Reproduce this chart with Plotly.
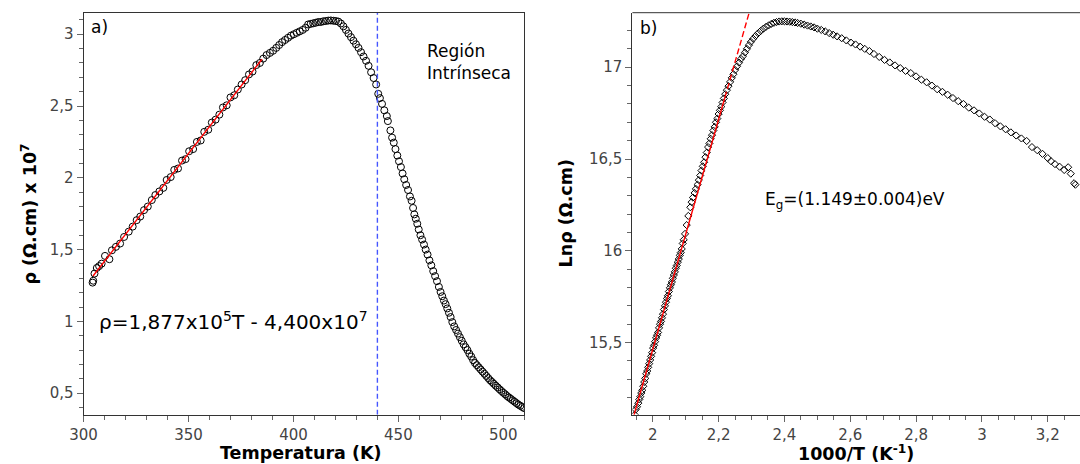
import plotly.graph_objects as go

# ---------------- Panel a) : resistivity vs temperature ----------------
T_a = [304.3, 304.6, 305.2, 306.3, 307.4, 308.6, 310.2, 312.3, 313.5, 315.4, 317.4, 319.3,
       321.5, 323.4, 325.3, 327.0, 328.8, 330.6, 332.5, 334.2, 336.1, 338.0, 339.6, 341.5,
       343.2, 345.0, 346.9, 348.6, 350.3, 352.2, 354.0, 355.8, 357.5, 359.4, 361.1, 362.9,
       364.7, 366.4, 368.2, 370.0, 371.8, 373.5, 375.3, 377.0, 378.8, 380.5, 382.3, 384.0,
       385.6, 387.2, 388.8, 390.3, 391.8, 393.2, 394.6, 396.0, 397.4, 398.8, 400.2, 401.6,
       403.0, 404.4, 405.8, 407.0, 408.2, 409.4, 410.6, 411.8, 413.0, 414.2, 415.4, 416.6,
       417.8, 419.0, 420.2, 421.4, 422.6, 423.8, 425.0, 426.2, 427.4, 428.6, 429.8, 431.0,
       432.2, 433.4, 434.6, 435.8, 437.0, 438.2, 439.4, 440.4, 441.2, 442.2, 443.3, 444.5,
       445.0, 446.2, 447.0, 447.8, 448.6, 449.5, 450.3, 451.2, 452.0, 452.8, 453.7, 454.6,
       455.5, 456.3, 457.0, 457.6, 458.3, 459.0, 459.7, 460.5, 461.3, 462.2, 463.0, 463.9,
       464.8, 465.7, 466.6, 467.5, 468.4, 469.3, 470.1, 470.9, 471.7, 472.5, 473.3, 474.1,
       474.9, 475.7, 476.6, 477.5, 478.4, 479.3, 480.2, 481.1, 482.0, 482.9, 483.8, 484.7,
       485.6, 486.5, 487.4, 488.3, 489.2, 490.1, 491.0, 491.9, 492.8, 493.7, 494.6, 495.5,
       496.4, 497.3, 498.2, 499.1, 500.0, 500.9, 501.8, 502.7, 503.6, 504.5, 505.4, 506.3,
       507.2, 508.1, 509.0, 509.9]
rho_a = [1.270, 1.283, 1.333, 1.372, 1.385, 1.402, 1.456, 1.433, 1.495, 1.519, 1.542, 1.588,
         1.625, 1.660, 1.705, 1.730, 1.775, 1.800, 1.845, 1.880, 1.905, 1.930, 1.985, 2.005,
         2.055, 2.065, 2.120, 2.130, 2.185, 2.200, 2.250, 2.260, 2.320, 2.335, 2.385, 2.405,
         2.440, 2.490, 2.505, 2.560, 2.575, 2.615, 2.650, 2.680, 2.720, 2.740, 2.785, 2.800,
         2.830, 2.855, 2.870, 2.885, 2.905, 2.925, 2.945, 2.960, 2.975, 2.990, 3.000, 3.010,
         3.020, 3.030, 3.045, 3.068, 3.072, 3.076, 3.080, 3.085, 3.085, 3.090, 3.092, 3.095,
         3.096, 3.094, 3.092, 3.088, 3.075, 3.055, 3.030, 3.005, 2.980, 2.955, 2.930, 2.905,
         2.875, 2.845, 2.815, 2.780, 2.735, 2.695, 2.650, 2.585, 2.555, 2.515, 2.470, 2.430,
         2.395, 2.330, 2.280, 2.245, 2.200, 2.155, 2.115, 2.075, 2.030, 1.990, 1.950, 1.915,
         1.870, 1.840, 1.790, 1.745, 1.715, 1.680, 1.640, 1.600, 1.570, 1.535, 1.500, 1.465,
         1.425, 1.390, 1.350, 1.315, 1.280, 1.240, 1.205, 1.175, 1.145, 1.120, 1.090, 1.060,
         1.030, 0.995, 0.965, 0.940, 0.915, 0.890, 0.865, 0.840, 0.820, 0.800, 0.775, 0.755,
         0.730, 0.710, 0.695, 0.680, 0.665, 0.650, 0.635, 0.620, 0.605, 0.590, 0.578, 0.565,
         0.552, 0.540, 0.527, 0.515, 0.503, 0.492, 0.480, 0.470, 0.460, 0.450, 0.440, 0.430,
         0.420, 0.412, 0.404, 0.396]

fit_T = [304.5, 385.0]
fit_rho = [1.316, 2.826]
intrinsic_T = 440

# ---------------- Panel b) : Ln(rho) vs 1000/T ----------------
x_b = [1.945, 1.948, 1.952, 1.956, 1.959, 1.962, 1.965, 1.968, 1.971, 1.974, 1.977, 1.980,
       1.983, 1.986, 1.989, 1.992, 1.995, 1.998, 2.001, 2.004, 2.007, 2.010, 2.013, 2.016,
       2.019, 2.022, 2.025, 2.028, 2.031, 2.034, 2.037, 2.040, 2.043, 2.046, 2.049, 2.052,
       2.055, 2.058, 2.061, 2.064, 2.067, 2.070, 2.073, 2.076, 2.079, 2.082, 2.085, 2.088,
       2.091, 2.094, 2.098, 2.103, 2.108, 2.114, 2.118, 2.122, 2.127, 2.131, 2.136, 2.140,
       2.144, 2.148, 2.152, 2.156, 2.160, 2.164, 2.168, 2.172, 2.176, 2.180, 2.184, 2.188,
       2.192, 2.196, 2.200, 2.204, 2.208, 2.212, 2.216, 2.220, 2.225, 2.230, 2.235, 2.240,
       2.245, 2.250, 2.256, 2.262, 2.268, 2.274, 2.280, 2.286, 2.292, 2.298, 2.305, 2.312,
       2.320, 2.328, 2.336, 2.344, 2.352, 2.360, 2.368, 2.376, 2.384, 2.392, 2.400, 2.408,
       2.416, 2.424, 2.432, 2.440, 2.450, 2.460, 2.470, 2.480, 2.490, 2.500, 2.512, 2.524,
       2.536, 2.548, 2.560, 2.574, 2.588, 2.602, 2.616, 2.630, 2.644, 2.658, 2.672, 2.688,
       2.704, 2.720, 2.736, 2.752, 2.768, 2.784, 2.800, 2.816, 2.832, 2.848, 2.864, 2.880,
       2.896, 2.912, 2.928, 2.944, 2.960, 2.976, 2.992, 3.008, 3.024, 3.040, 3.056, 3.072,
       3.088, 3.104, 3.120, 3.136, 3.152, 3.168, 3.184, 3.200, 3.210, 3.222, 3.236, 3.250,
       3.262, 3.270, 3.280, 3.284]
lnrho_b = [15.107, 15.135, 15.150, 15.170, 15.190, 15.205, 15.225, 15.240, 15.262, 15.285, 15.305, 15.330,
           15.345, 15.365, 15.385, 15.405, 15.425, 15.445, 15.470, 15.485, 15.505, 15.525, 15.540, 15.555,
           15.580, 15.600, 15.615, 15.635, 15.655, 15.680, 15.700, 15.720, 15.740, 15.755, 15.778, 15.798,
           15.815, 15.830, 15.850, 15.868, 15.885, 15.905, 15.920, 15.938, 15.955, 15.975, 15.990, 16.010,
           16.040, 16.060, 16.092, 16.140, 16.190, 16.237, 16.265, 16.290, 16.315, 16.337, 16.360, 16.385,
           16.410, 16.437, 16.460, 16.482, 16.510, 16.535, 16.565, 16.585, 16.610, 16.630, 16.655, 16.675,
           16.700, 16.720, 16.745, 16.765, 16.785, 16.808, 16.830, 16.853, 16.875, 16.897, 16.920, 16.942,
           16.962, 16.985, 17.005, 17.025, 17.045, 17.060, 17.080, 17.100, 17.120, 17.138, 17.155, 17.170,
           17.185, 17.198, 17.210, 17.220, 17.228, 17.236, 17.242, 17.246, 17.249, 17.250, 17.250, 17.249,
           17.248, 17.246, 17.244, 17.241, 17.237, 17.232, 17.227, 17.222, 17.217, 17.210, 17.203, 17.195,
           17.186, 17.177, 17.168, 17.158, 17.146, 17.134, 17.124, 17.112, 17.100, 17.088, 17.072, 17.056,
           17.040, 17.026, 17.010, 16.995, 16.980, 16.968, 16.950, 16.932, 16.918, 16.900, 16.880, 16.866,
           16.850, 16.832, 16.815, 16.800, 16.780, 16.765, 16.748, 16.730, 16.715, 16.695, 16.678, 16.662,
           16.645, 16.628, 16.612, 16.598, 16.565, 16.548, 16.528, 16.505, 16.488, 16.472, 16.458, 16.440,
           16.455, 16.420, 16.368, 16.360]

fit_x_solid = [1.943, 2.219]
fit_y_solid = [15.107, 16.835]
fit_x_dash = [2.219, 2.300]
fit_y_dash = [16.835, 17.342]

FONT = "DejaVu Sans"
TICKC = "#444444"

XA_DOM = [70.5 / 1080, 517 / 1080]
XB_DOM = [626.5 / 1080, 1.0]
Y_DOM = [(464 - 414.7) / 464, (464 - 12.7) / 464]

fig = go.Figure()
fig.add_trace(go.Scatter(x=T_a, y=rho_a, mode="markers", xaxis="x", yaxis="y",
                         marker=dict(symbol="circle-open", size=7, color="black",
                                     line=dict(width=1, color="black")),
                         showlegend=False, hoverinfo="skip"))
fig.add_trace(go.Scatter(x=fit_T, y=fit_rho, mode="lines", xaxis="x", yaxis="y",
                         line=dict(color="#ff0000", width=1.4), showlegend=False))
fig.add_trace(go.Scatter(x=[intrinsic_T, intrinsic_T], y=[0.35, 3.15], mode="lines",
                         xaxis="x", yaxis="y",
                         line=dict(color="#4656ff", width=1.4, dash="5px,3px"), showlegend=False))

fig.add_trace(go.Scatter(x=x_b, y=lnrho_b, mode="markers", xaxis="x2", yaxis="y2",
                         marker=dict(symbol="diamond-open", size=5.5, color="black",
                                     line=dict(width=1, color="black")),
                         showlegend=False, hoverinfo="skip"))
fig.add_trace(go.Scatter(x=fit_x_solid, y=fit_y_solid, mode="lines", xaxis="x2", yaxis="y2",
                         line=dict(color="#ff0000", width=1.4), showlegend=False))
fig.add_trace(go.Scatter(x=fit_x_dash, y=fit_y_dash, mode="lines", xaxis="x2", yaxis="y2",
                         line=dict(color="#ff0000", width=1.4, dash="6px,3px"), showlegend=False))

ax_common = dict(showgrid=False, zeroline=False, showline=True, linecolor="#333333",
                 linewidth=1, ticks="outside", ticklen=6, tickcolor="#666666",
                 tickfont=dict(family=FONT, size=15, color=TICKC))

fig.update_layout(
    width=1080, height=464,
    margin=dict(l=0, r=0, t=0, b=0),
    paper_bgcolor="white", plot_bgcolor="white",
    separators=",.",
    font=dict(family=FONT, color="black"),
    xaxis=dict(domain=XA_DOM, range=[300, 510], dtick=50, tick0=300,
               mirror=True, minor=dict(ticks="outside", dtick=10, ticklen=4, tickcolor="#666666"),
               anchor="y", **ax_common),
    yaxis=dict(domain=Y_DOM, range=[0.35, 3.15], dtick=0.5, tick0=0,
               mirror=True, minor=dict(ticks="outside", dtick=0.1, ticklen=4, tickcolor="#666666"),
               anchor="x", **ax_common),
    xaxis2=dict(domain=XB_DOM, range=[1.938, 3.298], dtick=0.2, tick0=2,
                minor=dict(ticks="outside", dtick=0.05, ticklen=4, tickcolor="#666666"),
                anchor="y2", **ax_common),
    yaxis2=dict(domain=Y_DOM, range=[15.107, 17.297], dtick=0.5, tick0=15,
                minor=dict(ticks="outside", dtick=0.1, ticklen=4, tickcolor="#666666"),
                anchor="x2", **ax_common),
)

# top frame line for panel b (right side is cut by the image edge)
fig.add_shape(type="line", xref="x2 domain", yref="y2 domain", x0=0, x1=1, y0=1, y1=1,
              line=dict(color="#333333", width=1))

ymid = (Y_DOM[0] + Y_DOM[1]) / 2
ann = []
# axis titles
ann.append(dict(text="<b>Temperatura (K)</b>", xref="paper", yref="paper",
                x=(XA_DOM[0] + XA_DOM[1]) / 2 - 3 / 1080, y=(464 - 453) / 464, xanchor="center",
                yanchor="middle", showarrow=False, font=dict(size=17.5, family=FONT)))
ann.append(dict(text="<b>1000/T (K<sup>-1</sup>)</b>", xref="paper", yref="paper",
                x=(XB_DOM[0] + XB_DOM[1]) / 2, y=(464 - 453) / 464, xanchor="center",
                yanchor="middle", showarrow=False, font=dict(size=17.5, family=FONT)))
ann.append(dict(text="<b>ρ (Ω.cm) x 10<sup>7</sup></b>", xref="paper", yref="paper",
                x=15 / 1080, y=ymid, xanchor="center", yanchor="middle", textangle=-90,
                showarrow=False, font=dict(size=17.5, family=FONT)))
ann.append(dict(text="<b>Lnρ (Ω.cm)</b>", xref="paper", yref="paper",
                x=559 / 1080, y=ymid, xanchor="center", yanchor="middle", textangle=-90,
                showarrow=False, font=dict(size=17.5, family=FONT)))
# in-plot texts
ann.append(dict(text="a)", xref="x", yref="y", x=302.6, y=3.053, xanchor="left",
                yanchor="middle", showarrow=False, font=dict(size=17, family=FONT)))
ann.append(dict(text="Región<br>Intrínseca", xref="x", yref="y", x=462.5, y=2.81,
                xanchor="left", yanchor="middle", align="left", showarrow=False,
                font=dict(size=17, family=FONT)))
ann.append(dict(text="ρ=1,877x10<sup>5</sup>T - 4,400x10<sup>7</sup>", xref="x", yref="y",
                x=306.5, y=1.0, xanchor="left", yanchor="middle", showarrow=False,
                font=dict(size=20, family=FONT)))
ann.append(dict(text="b)", xref="x2", yref="y2", x=1.955, y=17.216, xanchor="left",
                yanchor="middle", showarrow=False, font=dict(size=17, family=FONT)))
ann.append(dict(text="E<sub>g</sub>=(1.149±0.004)eV", xref="x2", yref="y2", x=2.334, y=16.274,
                xanchor="left", yanchor="middle", showarrow=False,
                font=dict(size=17, family=FONT)))
fig.update_layout(annotations=ann)

fig.write_html("out.html",
               config={"displayModeBar": False},
               post_script="document.body.style.margin='0px';document.body.style.padding='0px';")
